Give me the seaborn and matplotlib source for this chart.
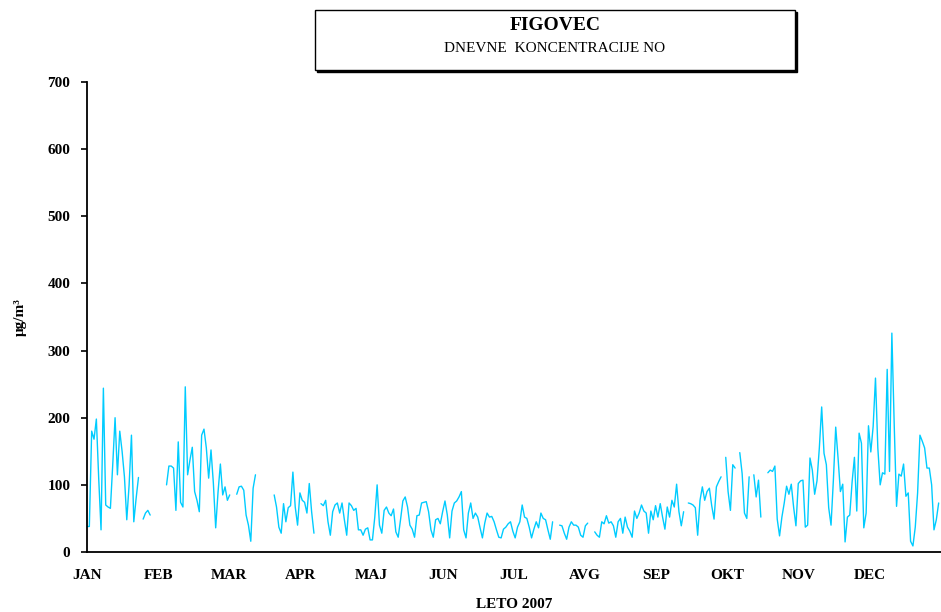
import numpy as np
import pandas as pd
import matplotlib
matplotlib.use("Agg")
import matplotlib.pyplot as plt
from matplotlib.patches import Rectangle
import seaborn as sns

nan = np.nan

# daily NO values (µg/m3), one list per month, nan = no data
jan = [38, 38, 180, 168, 198, 110, 33, 244, 70, 67, 65, 130, 200, 115, 180, 150,
       112, 48, 100, 174, 45, 80, 111, nan, 49, 58, 62, 55, nan, nan, nan]
feb = [nan, nan, nan, 100, 128, 128, 125, 62, 164, 74, 67, 246, 115, 137, 156, 90,
       77, 60, 174, 183, 155, 110, 152, 103, 36, 89, 131, 85]
mar = [97, 77, 85, nan, nan, 86, 97, 98, 92, 55, 40, 16, 95, 115, nan, nan,
       nan, nan, nan, nan, nan, 85, 67, 37, 28, 72, 45, 66, 69, 119, 67]
apr = [40, 88, 77, 74, 58, 102, 60, 28, nan, nan, 72, 69, 77, 45, 25, 60,
       70, 73, 58, 73, 48, 25, 73, 69, 62, 65, 33, 33, 25, 34]
maj = [36, 18, 18, 52, 100, 40, 28, 62, 67, 58, 54, 64, 30, 22, 48, 76,
       82, 67, 40, 34, 22, 54, 55, 73, 74, 75, 60, 33, 22, 48, 50]
jun = [42, 60, 76, 55, 21, 61, 73, 76, 82, 90, 33, 21, 58, 73, 50, 58,
       52, 36, 21, 43, 58, 52, 53, 45, 33, 22, 21, 34, 37, 42]
jul = [45, 31, 21, 37, 45, 70, 52, 50, 37, 21, 34, 45, 36, 58, 50, 48,
       33, 19, 45, nan, nan, 40, 39, 28, 19, 37, 45, 40, 40, 37, 25]
avg = [22, 39, 43, nan, nan, 30, 25, 22, 45, 42, 54, 43, 45, 39, 22, 45,
       50, 28, 52, 37, 31, 22, 61, 50, 58, 70, 61, 58, 28, 61, 48]
sep = [69, 52, 72, 52, 34, 67, 52, 77, 67, 101, 60, 39, 60, nan, 73, 72,
       70, 66, 25, 77, 97, 77, 90, 95, 69, 49, 97, 105, 112, nan]
okt = [141, 90, 62, 130, 125, nan, 148, 117, 58, 50, 112, nan, 115, 82, 107, 52,
       nan, nan, 118, 122, 120, 128, 49, 24, 52, 73, 98, 86, 101, 67, 39]
nov = [102, 106, 107, 37, 40, 140, 122, 86, 106, 155, 216, 147, 130, 66, 40, 107,
       186, 140, 90, 101, 15, 52, 55, 104, 141, 61, 177, 162, 36, 58]
dec = [188, 149, 187, 259, 155, 100, 118, 116, 272, 120, 326, 190, 68, 116, 113, 131,
       83, 88, 16, 9, 37, 88, 174, 165, 155, 125, 125, 100, 33, 48, 73]

months = ['JAN', 'FEB', 'MAR', 'APR', 'MAJ', 'JUN', 'JUL', 'AVG', 'SEP', 'OKT', 'NOV', 'DEC']
yticks = [0, 100, 200, 300, 400, 500, 600, 700]

values = np.array(jan + feb + mar + apr + maj + jun + jul + avg + sep + okt + nov + dec, dtype=float)
n_days = len(values)
df = pd.DataFrame({'day': np.arange(1, n_days + 1), 'no': values})
# split into runs so that gaps stay gaps
df['seg'] = df['no'].isna().cumsum()
df = df.dropna()

sns.set_style('ticks')
plt.rcParams['font.family'] = ['Liberation Serif', 'DejaVu Serif']
plt.rcParams['text.color'] = 'black'
plt.rcParams['xtick.color'] = 'black'
plt.rcParams['ytick.color'] = 'black'

W, H = 941, 612
fig = plt.figure(figsize=(W / 100, H / 100), dpi=100)
ax = fig.add_axes([87 / W, 60 / H, 854 / W, 470 / H])

sns.lineplot(data=df, x='day', y='no', units='seg', estimator=None,
             color='#00CCFF', linewidth=1.0, ax=ax, legend=False)

ax.set_xlim(1, n_days + 1)
ax.set_ylim(0, 700)
ax.set_yticks(yticks)
ax.set_yticklabels([str(t) for t in yticks], fontsize=11, fontweight='bold', color='black')
# month labels evenly spaced along the year, like the category axis of the original
ax.set_xticks(1 + np.arange(12) * n_days / 12)
ax.set_xticklabels(months, fontsize=11, fontweight='bold', color='black')
ax.tick_params(axis='x', length=0, pad=12)
ax.tick_params(axis='y', length=4, width=1.2, pad=8, direction='out')
ax.set_xlabel('')
ax.set_ylabel('')
for s in ['top', 'right']:
    ax.spines[s].set_visible(False)
for s in ['left', 'bottom']:
    ax.spines[s].set_linewidth(1.3)
    ax.spines[s].set_color('black')

fig.text(20 / W, 1 - 317 / H, 'μg/m³', rotation=90, ha='center', va='center',
         fontsize=11, fontweight='bold', color='black')
fig.text(514 / W, 1 - 604 / H, 'LETO 2007', ha='center', va='center',
         fontsize=11, fontweight='bold', color='black')

# title box with shadow
bx0, bx1, by0, by1 = 315 / W, 795 / W, 1 - 70 / H, 1 - 10 / H
fig.patches.append(Rectangle((bx0 + 2 / W, by0 - 2 / H), bx1 - bx0, by1 - by0,
                             transform=fig.transFigure, facecolor='black', edgecolor='black'))
fig.patches.append(Rectangle((bx0, by0), bx1 - bx0, by1 - by0,
                             transform=fig.transFigure, facecolor='white', edgecolor='black', linewidth=1))
fig.text(555 / W, 1 - 25 / H, 'FIGOVEC', ha='center', va='center', fontsize=14,
         fontweight='bold', color='black')
fig.text(555 / W, 1 - 48 / H, 'DNEVNE  KONCENTRACIJE NO', ha='center', va='center',
         fontsize=11, color='black')

fig.savefig('out.png', dpi=100)
